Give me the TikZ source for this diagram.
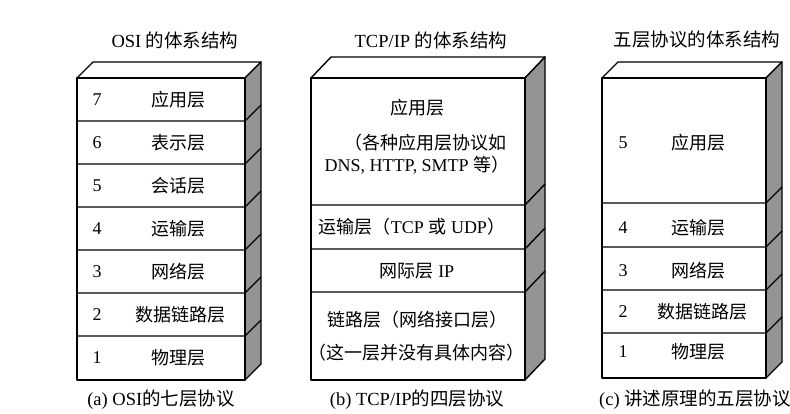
\documentclass[tikz,border=0pt]{standalone}
\usepackage{fontspec}
\setmainfont{Liberation Serif}
\newfontfamily\zh{Noto Sans CJK SC}
\begin{document}
\begin{tikzpicture}[x=1pt,y=-1pt,
  edge/.style={draw=black,line width=1.4pt,line join=round},
  sideface/.style={edge,fill=black!42},
  topface/.style={edge,fill=white},
  layertext/.style={font=\fontsize{18}{21}\selectfont,inner sep=0pt},
  headtext/.style={font=\fontsize{18.5}{21}\selectfont,inner sep=0pt}]
\useasboundingbox (0,0) rectangle (790,414);

% (a) OSI
\draw[topface] (77,78) -- (93,62) -- (261,62) -- (245,78) -- cycle;
\draw[sideface] (245,78) -- (261,62) -- (261,364) -- (245,380) -- cycle;
\draw[edge] (77,78) rectangle (245,380);
\foreach \y in {121,164,207,250,293,336}
  \draw[edge] (77,\y) -- (245,\y) -- ++(16,-16);
\node[headtext] (osititle) at (175,40) {OSI {\zh 的体系结构}};
\node[layertext] (osi7n) at (97,100) {7};
\node[layertext] (osi7) at (178,100) {\zh 应用层};
\node[layertext] (osi6n) at (97,143) {6};
\node[layertext] (osi6) at (178,143) {\zh 表示层};
\node[layertext] (osi5n) at (97,186) {5};
\node[layertext] (osi5) at (178,186) {\zh 会话层};
\node[layertext] (osi4n) at (97,229) {4};
\node[layertext] (osi4) at (178,229) {\zh 运输层};
\node[layertext] (osi3n) at (97,272) {3};
\node[layertext] (osi3) at (178,272) {\zh 网络层};
\node[layertext] (osi2n) at (97,315) {2};
\node[layertext] (osi2) at (180,315) {\zh 数据链路层};
\node[layertext] (osi1n) at (97,358) {1};
\node[layertext] (osi1) at (178,358) {\zh 物理层};
\node[headtext] (osicap) at (161,400) {(a) OSI{\zh 的七层协议}};

% (b) TCP/IP
\draw[topface] (311,78) -- (331,57) -- (545,57) -- (525,78) -- cycle;
\draw[sideface] (525,78) -- (545,57) -- (545,359) -- (525,380) -- cycle;
\draw[edge] (311,78) rectangle (525,380);
\foreach \y in {205,249,292}
  \draw[edge] (311,\y) -- (525,\y) -- ++(20,-21);
\node[headtext] (tcptitle) at (431,40) {TCP/IP {\zh 的体系结构}};
\node[layertext] (tcpapp) at (417,108) {\zh 应用层};
\node[layertext] (tcpappa) at (425,143) {\zh （各种应用层协议如};
\node[layertext] (tcpappb) at (417,165) {DNS, HTTP, SMTP {\zh 等）}};
\node[layertext] (tcptrans) at (412,227) {{\zh 运输层（}TCP {\zh 或} UDP{\zh ）}};
\node[layertext] (tcpnet) at (417,271) {{\zh 网际层} IP};
\node[layertext] (tcplinka) at (417,320) {\zh 链路层（网络接口层）};
\node[layertext] (tcplinkb) at (416,353) {\zh （这一层并没有具体内容）};
\node[headtext] (tcpcap) at (417,400) {(b) TCP/IP{\zh 的四层协议}};

% (c) five layers
\draw[topface] (602,78) -- (618,62) -- (782,62) -- (766,78) -- cycle;
\draw[sideface] (766,78) -- (782,62) -- (782,362) -- (766,378) -- cycle;
\draw[edge] (602,78) rectangle (766,378);
\foreach \y in {203,247,290,333}
  \draw[edge] (602,\y) -- (766,\y) -- ++(16,-16);
\node[headtext] (fivetitle) at (697,40) {\zh 五层协议的体系结构};
\node[layertext] (five5n) at (623,143) {5};
\node[layertext] (five5) at (698,143) {\zh 应用层};
\node[layertext] (five4n) at (623,228) {4};
\node[layertext] (five4) at (698,228) {\zh 运输层};
\node[layertext] (five3n) at (623,271) {3};
\node[layertext] (five3) at (698,271) {\zh 网络层};
\node[layertext] (five2n) at (623,312) {2};
\node[layertext] (five2) at (702,312) {\zh 数据链路层};
\node[layertext] (five1n) at (623,352) {1};
\node[layertext] (five1) at (698,352) {\zh 物理层};
\node[headtext] (fivecap) at (695,400) {(c) {\zh 讲述原理的五层协议}};
\end{tikzpicture}
\end{document}
